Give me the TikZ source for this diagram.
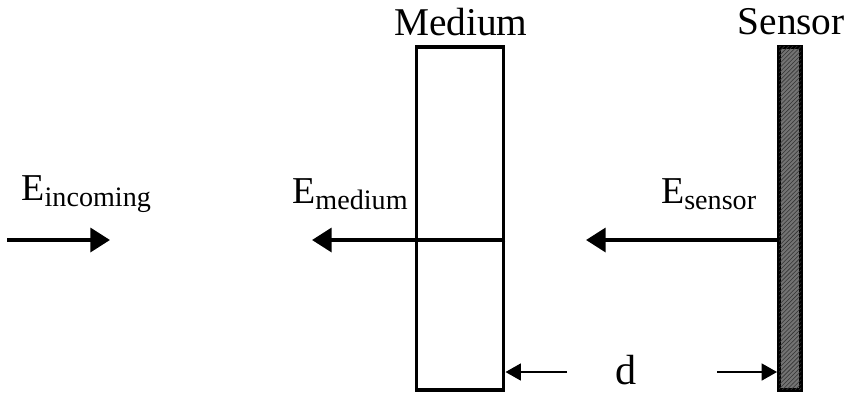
\documentclass[tikz,border=0pt]{standalone}
\usepackage{fontspec}
\setmainfont{Liberation Serif}
\usetikzlibrary{arrows.meta,patterns}
\newcommand{\fieldlabel}[1]{E\raisebox{-0.35ex}{\fontsize{20}{22}\selectfont #1}}
\tikzset{
  slab/.style={draw, line width=2.8pt, minimum width=2.175cm,
    minimum height=8.575cm, inner sep=0pt},
  sensorbar/.style={draw, line width=2.8pt, fill=black!55,
    postaction={pattern=north east lines, pattern color=black!80},
    minimum width=0.55cm, minimum height=8.575cm, inner sep=0pt},
  title/.style={font=\fontsize{28}{30}\selectfont, inner sep=0pt},
  fieldtext/.style={font=\fontsize{27}{30}\selectfont, anchor=west, inner sep=0pt},
  wave/.style={-{Triangle[length=14pt,width=17pt]}, line width=2.8pt},
  gap/.style={-{Triangle[length=11pt,width=12pt]}, line width=1.6pt}
}
\begin{document}
\begin{tikzpicture}
  \useasboundingbox (0,0) rectangle (21.2,9.8);

  \node[slab] (medium) at (11.5,4.34) {};
  \node[sensorbar] (sensor) at (19.75,4.34) {};

  \node[title] (mediumname) at (11.52,9.25) {Medium};
  \node[title] (sensorname) at (19.78,9.25) {Sensor};

  % incoming field
  \coordinate (instart) at (0.18,3.8);
  \coordinate (inend) at (2.75,3.8);
  \draw[wave] (instart) -- (inend);
  \node[fieldtext] (inlabel) at (0.53,4.95) {\fieldlabel{incoming}};

  % field after the medium
  \coordinate (medtip) at (7.8,3.8);
  \draw[wave] (medium.east |- medtip) -- (medtip);
  \node[fieldtext] (medlabel) at (7.3,4.95) {\fieldlabel{medium}};

  % field at the sensor
  \coordinate (sentip) at (14.65,3.8);
  \draw[wave] (sensor.west |- sentip) -- (sentip);
  \node[fieldtext] (senlabel) at (16.52,4.95) {\fieldlabel{sensor}};

  % distance
  \node[font=\fontsize{30}{32}\selectfont, inner sep=0pt] (dist) at (15.65,0.55) {d};
  \coordinate (dleft) at (14.175,0.5);
  \coordinate (dright) at (17.925,0.5);
  \draw[gap] (dleft) -- (medium.east |- dleft);
  \draw[gap] (dright) -- (sensor.west |- dright);
\end{tikzpicture}
\end{document}
